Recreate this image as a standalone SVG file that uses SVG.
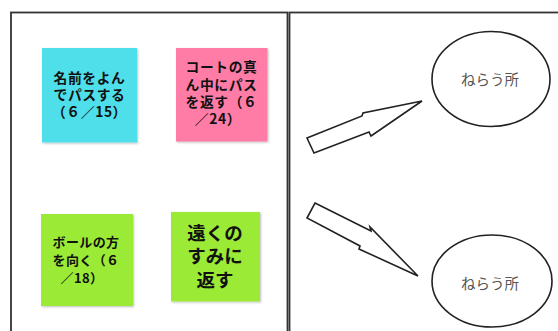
<svg xmlns="http://www.w3.org/2000/svg" width="558" height="331" viewBox="0 0 558 331">
<defs>
<filter id="sh" x="-10%" y="-10%" width="130%" height="130%">
<feDropShadow dx="1" dy="1" stdDeviation="0.8" flood-color="#000" flood-opacity="0.25"/>
</filter>
</defs>
<style>
.frame{fill:none;stroke:#333;stroke-width:1.8}
.note{filter:url(#sh)}
.nt{font-family:"Noto Sans CJK JP","Noto Sans",sans-serif;fill:#111;text-anchor:middle}
.ell{fill:#fff;stroke:#222;stroke-width:1.6}
.et{font-family:"Noto Sans CJK JP","Noto Sans",sans-serif;fill:#555;font-size:14.5px;text-anchor:middle}
.arr{fill:#fff;stroke:#222;stroke-width:1.6;stroke-linejoin:miter}
</style>
<rect width="558" height="331" fill="#fff"/>
<g id="frames">
<rect class="frame" x="11" y="12.5" width="276.5" height="330"/>
<rect class="frame" x="289.5" y="12.5" width="290" height="330"/>
</g>
<g id="note1">
<rect class="note" x="42" y="48" width="95" height="94.5" fill="#4FDFEB"/>
<text class="nt" font-size="13.8" font-weight="bold" letter-spacing="0.6"><tspan x="89.5" y="83">名前をよん</tspan><tspan x="89.5" y="100">でパスする</tspan><tspan x="89.5" y="117">（６／15）</tspan></text>
</g>
<g id="note2">
<rect class="note" x="176" y="48" width="91.5" height="93.5" fill="#FF7BA6"/>
<text class="nt" font-size="13.8" font-weight="bold" letter-spacing="0.6"><tspan x="221.5" y="72">コートの真</tspan><tspan x="221.5" y="89.5">ん中にパス</tspan><tspan x="221.5" y="107">を返す（６</tspan><tspan x="218" y="124">／24）</tspan></text>
</g>
<g id="note3">
<rect class="note" x="41" y="214" width="92" height="92" fill="#9BEA35"/>
<text class="nt" font-size="13" font-weight="bold" letter-spacing="0.4"><tspan x="86" y="246.5">ボールの方</tspan><tspan x="86" y="264.5">を向く（６</tspan><tspan x="82" y="282.5">／18）</tspan></text>
</g>
<g id="note4">
<rect class="note" x="171" y="212" width="89" height="89.5" fill="#9BEA35"/>
<text class="nt" font-size="18.5" font-weight="bold"><tspan x="215" y="239.5">遠くの</tspan><tspan x="215" y="263">すみに</tspan><tspan x="215" y="286.5">返す</tspan></text>
</g>
<g id="target1">
<ellipse class="ell" cx="491" cy="79" rx="59" ry="47.5"/>
<text class="et" x="490" y="85">ねらう所</text>
</g>
<g id="target2">
<ellipse class="ell" cx="492" cy="281" rx="60" ry="46"/>
<text class="et" x="490" y="289">ねらう所</text>
</g>
<g id="connectors">
<polygon class="arr" points="307,138 362,116 363,113 422,101 371,136 369,132 314,153"/>
<polygon class="arr" points="315,203 371,231 370,227 418,276 359,249 360,246 307,218"/>
</g>
</svg>
